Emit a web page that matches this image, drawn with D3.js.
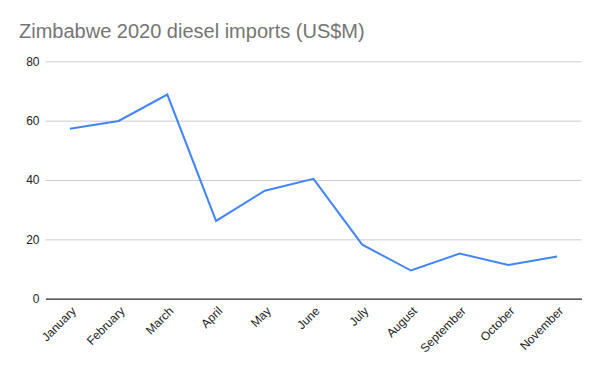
<!DOCTYPE html>
<html><head><meta charset="utf-8">
<script src="https://cdn.jsdelivr.net/npm/d3@7"></script>
<style>body{margin:0;background:#fff;}svg{display:block;font-family:Arial,"Liberation Sans",sans-serif;}</style>
</head><body>
<svg id="c" width="600" height="371"></svg>
<script>
const months = ["January","February","March","April","May","June","July","August","September","October","November"];
const imports = [57.3, 59.9, 68.8, 26.2, 36.4, 40.4, 18.2, 9.5, 15.2, 11.4, 14.2];
const yTicks = [0, 20, 40, 60, 80];
const title = "Zimbabwe 2020 diesel imports (US$M)";

(function(){
const svg = d3.select("#c");
const mLeft = 45.5, mRight = 581.5, mTop = 61.3, mBottom = 298.7;
const x = d3.scaleBand().domain(months).range([mLeft, mRight]);
const y = d3.scaleLinear().domain([0, 80]).range([mBottom, mTop]);

svg.append("rect").attr("width",600).attr("height",371).attr("fill","#fff");
svg.append("text").attr("x",19).attr("y",38).attr("font-size",20).attr("fill","#757575").text(title);

const yAxis = svg.append("g").attr("transform",`translate(${mLeft},0)`)
  .call(d3.axisLeft(y).tickValues(yTicks).tickSize(-(mRight-mLeft)).tickPadding(6));
yAxis.select(".domain").remove();
yAxis.selectAll(".tick line").attr("stroke","#cccccc");
yAxis.selectAll(".tick text").attr("font-size",12).attr("fill","#222").attr("font-family","Arial, Liberation Sans, sans-serif");

const xAxis = svg.append("g").attr("transform",`translate(0,${mBottom})`)
  .call(d3.axisBottom(x).tickSize(0).tickPadding(0));
xAxis.select(".domain").attr("stroke","#333").attr("stroke-width",1.3);
xAxis.selectAll(".tick text")
  .attr("font-size",12).attr("fill","#222").attr("font-family","Arial, Liberation Sans, sans-serif")
  .attr("text-anchor","end").attr("dy",0).attr("y",0)
  .attr("transform","translate(7,13) rotate(-45)");

const line = d3.line().x((d,i)=>x(months[i])+x.bandwidth()/2).y(d=>y(d));
svg.append("path").datum(imports).attr("d",line).attr("fill","none")
  .attr("stroke","#4285f4").attr("stroke-width",2).attr("stroke-linejoin","miter");
})();
</script>
</body></html>
